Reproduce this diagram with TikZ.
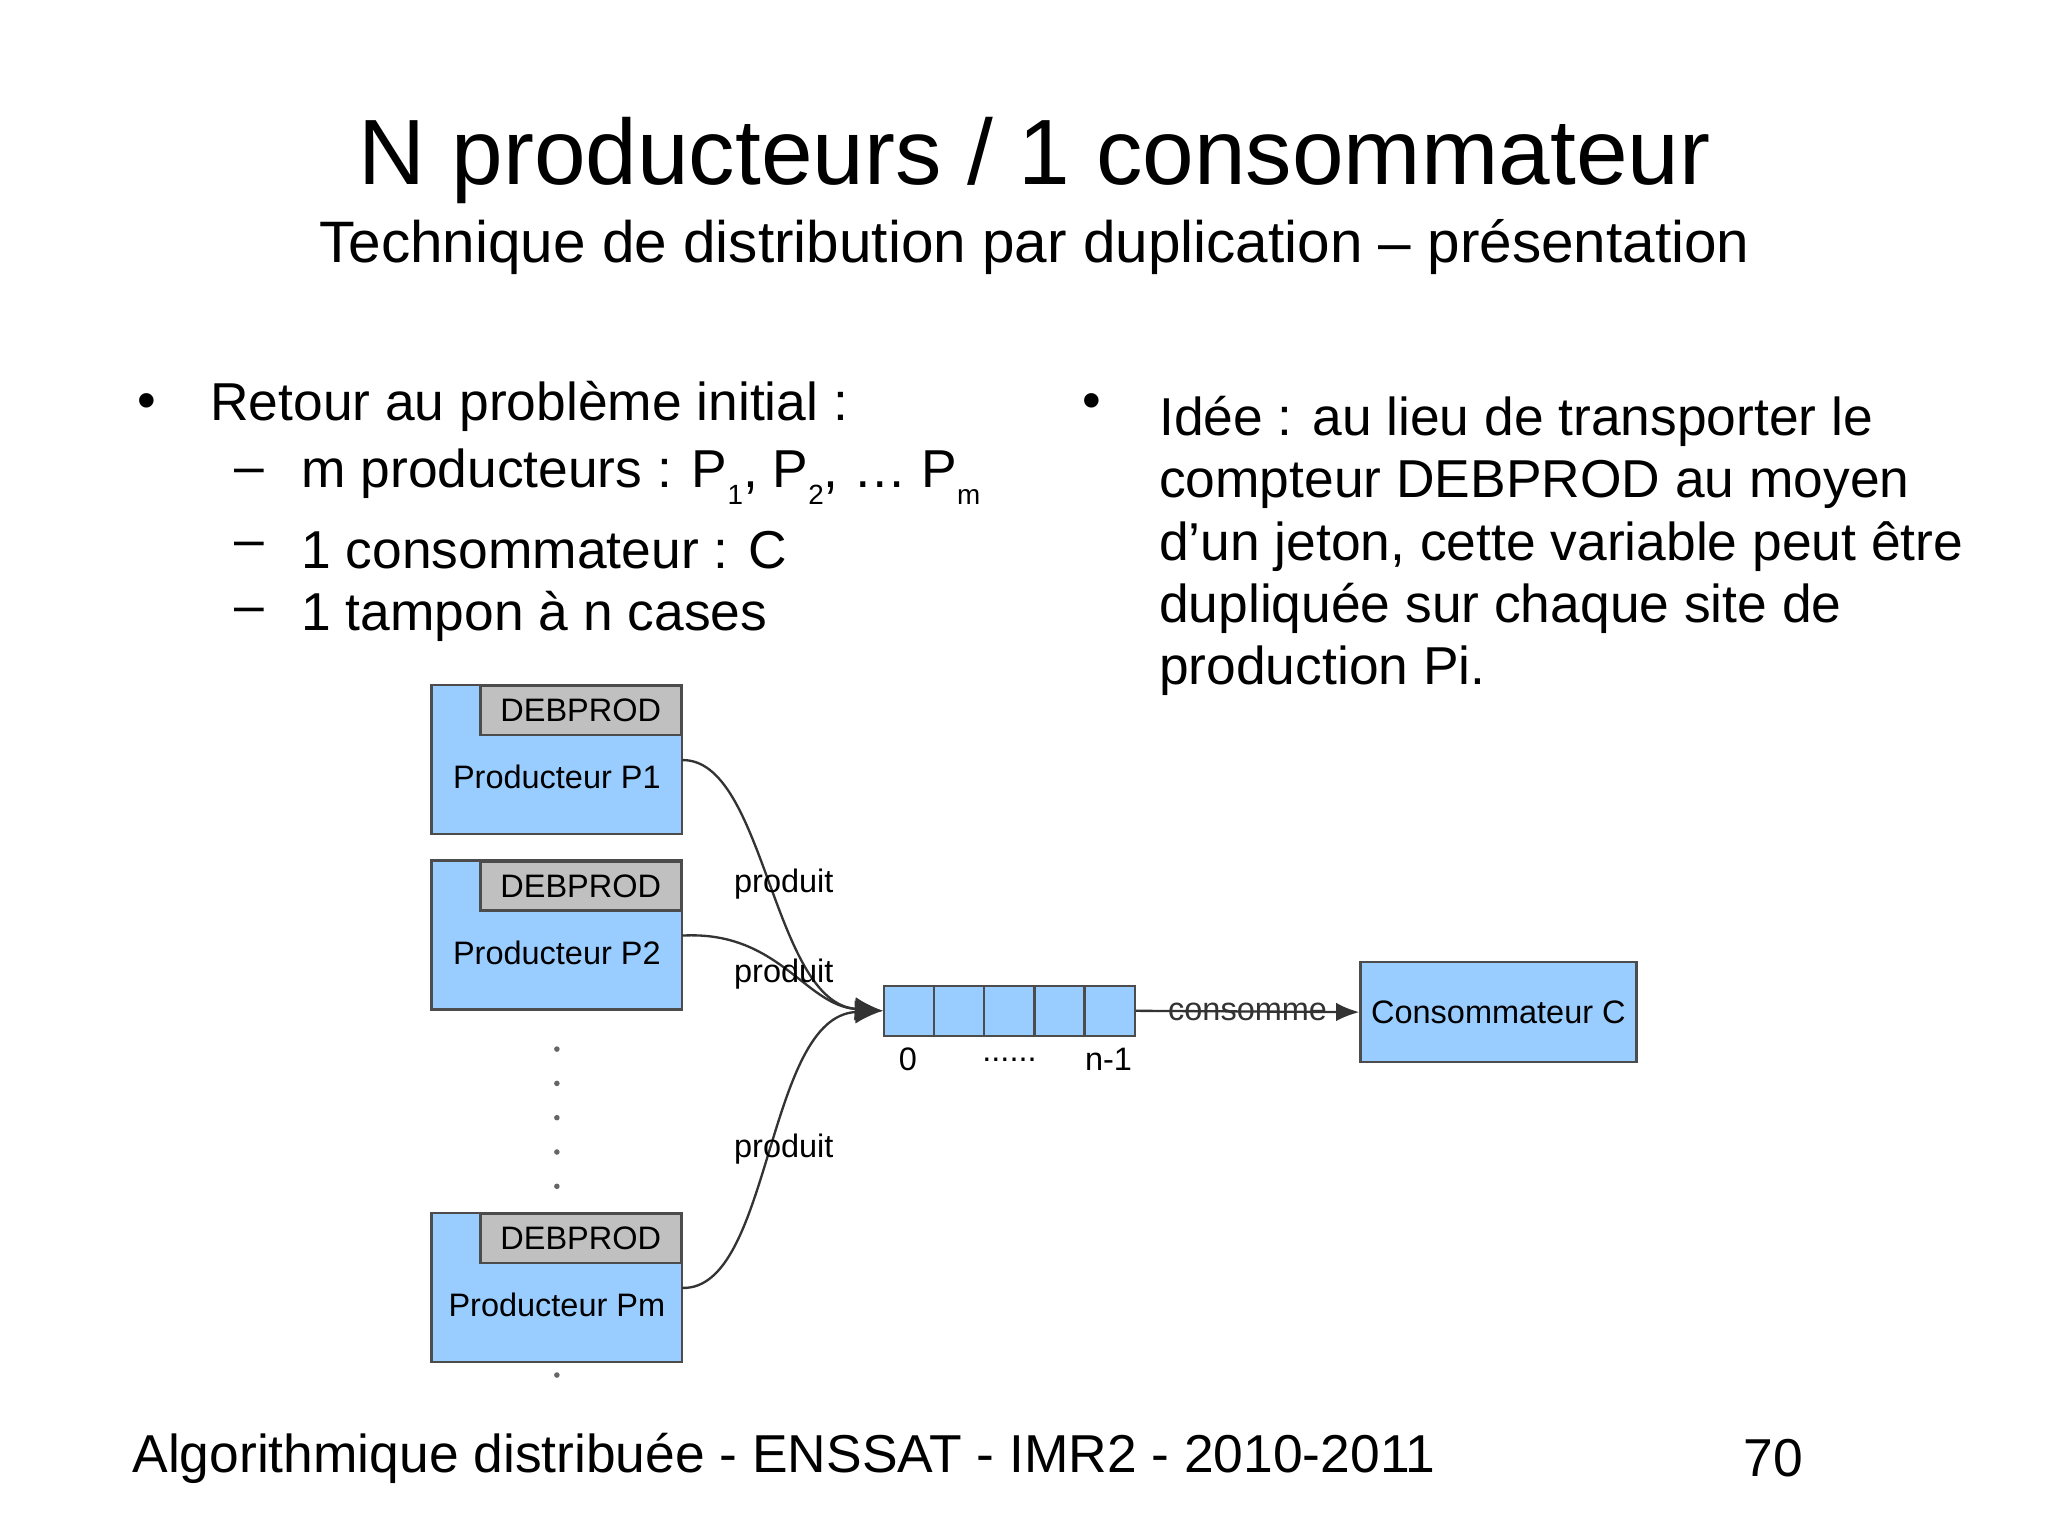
\documentclass[tikz,border=0pt]{standalone}
\usepackage{fontspec}
\setmainfont{Liberation Sans}
\usetikzlibrary{arrows.meta}
\definecolor{lblue}{HTML}{99CCFF}
\definecolor{tabgray}{HTML}{C0C0C0}
\newcommand{\sbs}[1]{\raisebox{-0.6ex}{\fontsize{6}{6}\selectfont #1}}
\begin{document}
\begin{tikzpicture}[x=0.01cm,y=-0.01cm,
  prod/.style={draw=black!70,fill=lblue,line width=0.5pt,minimum width=190\pgflinewidth,inner sep=0},
  tabbox/.style={draw=black!70,fill=tabgray,line width=0.5pt,anchor=north east,minimum width=1.52cm,minimum height=0.37cm,inner sep=0,font=\fontsize{7}{8}\selectfont},
  dtxt/.style={font=\fontsize{7}{8}\selectfont},
  cell/.style={draw=black!70,fill=lblue,line width=0.5pt,minimum width=0.38cm,minimum height=0.38cm,inner sep=0,anchor=west},
  bul/.style={anchor=west,font=\fontsize{11.5}{14}\selectfont},
  conn/.style={line width=0.5pt,black!80},
  dot/.style={circle,fill=black!60,inner sep=0,minimum size=1.2pt}]
\useasboundingbox (0,0) rectangle (1552,1164);
\fill[white] (0,0) rectangle (1552,1164);
\node (title) at (784,122) {\fontsize{20}{24}\selectfont N producteurs / 1 consommateur};
\node (sub) at (784,187) {\fontsize{12.6}{15}\selectfont Technique de distribution par duplication – présentation};
% left bullets
\node[bul] (b1) at (92,308) {•};
\node[bul] (t1) at (147,308) {Retour au problème initial :};
\node[bul] (d1) at (165,361) {–};
\node[bul] (s1) at (216,361) {m producteurs : P\sbs{1}, P\sbs{2}, … P\sbs{m}};
\node[bul] (d2) at (165,417) {–};
\node[bul] (s2) at (216,417) {1 consommateur : C};
\node[bul] (d3) at (165,467) {–};
\node[bul] (s3) at (216,467) {1 tampon à n cases};
% right bullet
\node[bul] (b2) at (808,308) {•};
\node[bul,anchor=north west,align=left,font=\fontsize{11.5}{13.4}\selectfont] (t2) at (866,288) {Idée : au lieu de transporter le\\compteur DEBPROD au moyen\\d’un jeton, cette variable peut être\\dupliquée sur chaque site de\\production Pi.};
% producers
\foreach \n/\y/\lab in {p1/519/Producteur P1,p2/652/Producteur P2,pm/919/Producteur Pm}{
  \draw[draw=black!70,fill=lblue,line width=0.5pt] (327,\y) rectangle (517,\y+113);
  \node[tabbox] (\n tab) at (517,\y) {DEBPROD};
  \coordinate (\n) at (422,\y+56);
  \coordinate (\n out) at (517,\y+57);
  \node[dtxt] (\n lab) at (422,\y+70) {\lab};
}
\foreach \yy in {795,821,847,873,899,1042} \node[dot] at (422,\yy) {};
% buffer
\foreach \i in {0,...,4} \node[cell] (c\i) at (669+38*\i,766) {};
\node[dtxt] (l0) at (688,803) {0};
\node[dtxt] (ld) at (765,803) {......};
\node[dtxt] (ln) at (840,803) {n-1};
% consumer
\node[draw=black!70,fill=lblue,line width=0.5pt,minimum width=2.09cm,minimum height=0.76cm,inner sep=0,font=\fontsize{7}{8}\selectfont] (cons) at (1135.5,767) {Consommateur C};
\draw[conn,-{Latex[length=5pt,width=4pt]}] (c4.east) -- node[dtxt,pos=0.5]{consomme} (cons.west);
% curves
\draw[conn,-{Latex[length=6pt,width=5pt]}] (p1out) .. controls (580,575) and (585,760) .. (c0.west);
\draw[conn,-{Latex[length=6pt,width=5pt]}] (p2out) .. controls (590,705) and (610,762) .. (c0.west);
\draw[conn,-{Latex[length=6pt,width=5pt]}] (pmout) .. controls (585,978) and (580,770) .. (c0.west);
\node[dtxt] (pr1) at (594,670) {produit};
\node[dtxt] (pr2) at (594,738) {produit};
\node[dtxt] (pr3) at (594,871) {produit};
% footer
\node[bul,font=\fontsize{11.5}{14}\selectfont] (foot) at (88,1105) {Algorithmique distribuée - ENSSAT - IMR2 - 2010-2011};
\node[font=\fontsize{11.5}{14}\selectfont] (page) at (1344,1105) {70};
\end{tikzpicture}
\end{document}
